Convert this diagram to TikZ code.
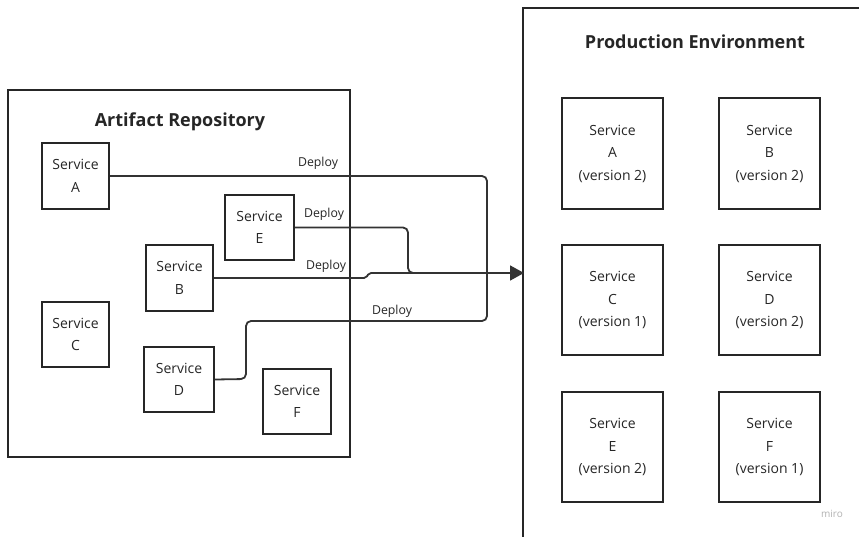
\documentclass[tikz,border=0pt]{standalone}
\usepackage{fontspec}
\setmainfont{Open Sans}
\usetikzlibrary{arrows.meta}
\tikzset{
  frame/.style={draw=black!85, line width=2pt},
  svc/.style={draw=black!85, line width=2pt, align=center, inner sep=0pt,
    font=\fontsize{14}{22.5}\selectfont, text=black!85},
  title/.style={font=\bfseries\fontsize{18}{20}\selectfont, text=black!85},
  conn/.style={draw=black!80, line width=1.8pt, rounded corners=5pt},
  lbl/.style={font=\fontsize{12.3}{14}\selectfont, text=black!85, inner sep=1pt},
}
\begin{document}
\begin{tikzpicture}[x=1pt,y=-1pt]
\useasboundingbox (0,0) rectangle (859,537);
\clip (0,0) rectangle (859,537);
\fill[white] (0,0) rectangle (859,537);
% containers
\draw[frame] (8,90) rectangle (350,457);
\draw[frame] (523,8) rectangle (880,560);
\node[title] (repoT) at (180,122) {Artifact Repository};
\node[title] (prodT) at (695,42) {Production Environment};
% repository services
\node[svc, minimum width=67pt, minimum height=66pt] (A) at (75.5,176) {Service\\A};
\node[svc, minimum width=69pt, minimum height=65pt] (E) at (259.5,227.5) {Service\\E};
\node[svc, minimum width=67pt, minimum height=66pt] (B) at (179.5,278) {Service\\B};
\node[svc, minimum width=67pt, minimum height=65pt] (C) at (75.5,334.5) {Service\\C};
\node[svc, minimum width=70pt, minimum height=65pt] (D) at (179,379.5) {Service\\D};
\node[svc, minimum width=68pt, minimum height=65pt] (F) at (297,401.5) {Service\\F};
% production services
\node[svc, minimum width=101pt, minimum height=111pt] (PA) at (612.5,153.5) {Service\\A\\(version 2)};
\node[svc, minimum width=101pt, minimum height=111pt] (PB) at (769.5,153.5) {Service\\B\\(version 2)};
\node[svc, minimum width=101pt, minimum height=110pt] (PC) at (612.5,300) {Service\\C\\(version 1)};
\node[svc, minimum width=101pt, minimum height=110pt] (PD) at (769.5,300) {Service\\D\\(version 2)};
\node[svc, minimum width=101pt, minimum height=110pt] (PE) at (612.5,447) {Service\\E\\(version 2)};
\node[svc, minimum width=101pt, minimum height=110pt] (PF) at (769.5,447) {Service\\F\\(version 1)};
% connector points
\coordinate (J) at (487,273);
\coordinate (T) at (524,273);
\coordinate (eT) at (408,273);
\coordinate (b1) at (366,278);
\coordinate (b2) at (369,273);
\coordinate (d1) at (246,379);
\coordinate (d2) at (246,321);
\coordinate (d3) at (487,321);
% connectors
\draw[conn] (A.east) -| (J);
\draw[conn] (E.east) -| (eT) -- (J);
\draw[conn, rounded corners=2pt] (B.east) -- (b1) -- (b2) -- (J);
\draw[conn] (D.east) -- (d1) -- (d2) -- (d3) -- (J);
\draw[conn, -{Triangle[length=14pt,width=15pt]}] (J) -- (T);
% labels
\node[lbl] (lA) at (318,163) {Deploy};
\node[lbl] (lE) at (324,214) {Deploy};
\node[lbl] (lB) at (326,266) {Deploy};
\node[lbl] (lD) at (392,311) {Deploy};
% watermark
\node[font=\fontsize{10}{12}\selectfont, text=black!30] (miro) at (832,514) {miro};
\end{tikzpicture}
\end{document}
